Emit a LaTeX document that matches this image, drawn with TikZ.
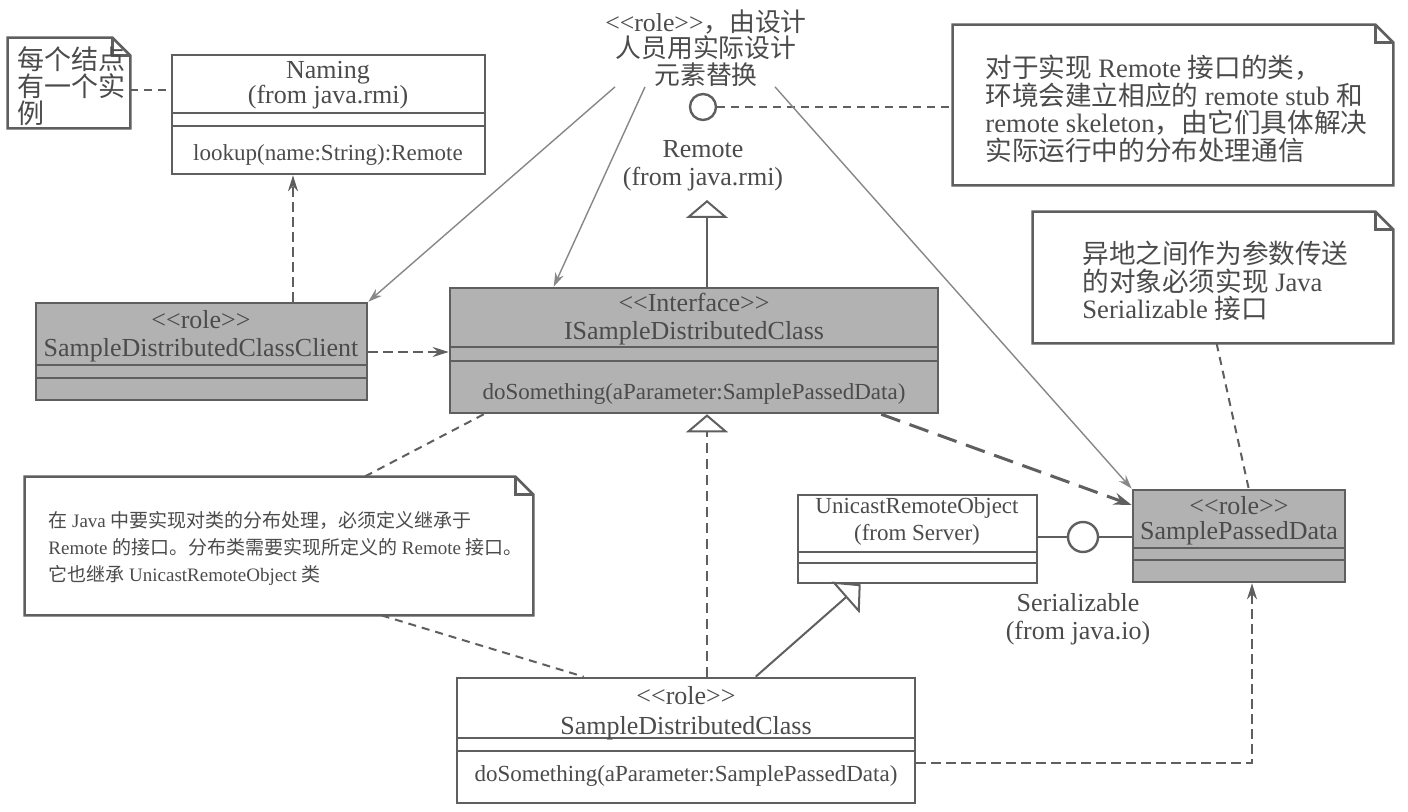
\documentclass[tikz,border=0pt]{standalone}
\usepackage{fontspec}
\setmainfont{Liberation Serif}
\newfontfamily\zhfont{Noto Sans CJK SC}
\newcommand{\zh}[1]{{\zhfont #1}}
\usetikzlibrary{fit,arrows.meta}

\definecolor{inkgray}{RGB}{75,75,75}
\definecolor{linegray}{RGB}{95,95,95}
\definecolor{thingray}{RGB}{135,135,135}
\definecolor{roleshade}{RGB}{178,178,178}

% folded corner outline of a note node
\newcommand{\drawnote}[1]{%
  \draw[notefold] (#1.north west) -- ([xshift=-9pt]#1.north east) -- ([yshift=-9pt]#1.north east) -- (#1.south east) -- (#1.south west) -- cycle;
  \draw[notefold] ([xshift=-9pt]#1.north east) |- ([yshift=-9pt]#1.north east);}

\tikzset{
  classbox/.style={draw=linegray, line width=1.3pt, inner sep=0pt},
  rolebox/.style={classbox, fill=roleshade},
  sepline/.style={draw=linegray, line width=1.3pt},
  notebox/.style={inner sep=0pt},
  notetext/.style={anchor=west, inner sep=0pt, align=left, text=inkgray, font=\fontsize{13.3}{13.8}\selectfont},
  notefold/.style={draw=linegray, line width=1.3pt, line join=miter},
  nametext/.style={align=center, text=inkgray, inner sep=0pt, font=\fontsize{13}{14}\selectfont},
  optext/.style={text=inkgray, inner sep=0pt, font=\fontsize{11.5}{13}\selectfont},
  lollipop/.style={draw=linegray, line width=1.2pt, circle, inner sep=0pt, fill=white},
  assoc/.style={draw=linegray, line width=1pt},
  notelink/.style={draw=linegray, line width=1pt, dash pattern=on 4pt off 3pt},
  deparrow/.style={draw=linegray, line width=1pt, dash pattern=on 5pt off 2.5pt, -{Stealth[length=8pt, width=5pt]}},
  bigdep/.style={draw=linegray, line width=1.5pt, dash pattern=on 10pt off 5pt, -{Stealth[length=9pt, width=6pt]}},
  thinarrow/.style={draw=thingray, line width=0.7pt, -{Stealth[length=7pt, width=4.5pt]}},
  realize/.style={draw=linegray, line width=1pt, dash pattern=on 5pt off 3pt, -{Triangle[open, length=9pt, width=21pt]}},
  generalize/.style={draw=linegray, line width=1pt, -{Triangle[open, length=10pt, width=21pt]}}
}

\begin{document}
\begin{tikzpicture}[x=0.5pt, y=-0.5pt]

    % Canvas
    \useasboundingbox (0,0) rectangle (1408,812);
    \fill[white] (0,0) rectangle (1408,812);

    % Naming class (top left)
    \node[classbox, fit={(172,55) (485,174)}] (naming) {};
    \draw[sepline] (172,113) -- (485,113);
    \draw[sepline] (172,126) -- (485,126);
    \node[nametext, font=\fontsize{13}{12.5}\selectfont] (namingtitle) at (328,85) {Naming\\(from java.rmi)};
    \node[optext] (namingop) at (328,155) {lookup(name:String):Remote};

    % Client role class
    \node[rolebox, fit={(36,303) (367,400)}] (client) {};
    \draw[sepline] (36,365) -- (367,365);
    \draw[sepline] (36,378) -- (367,378);
    \node[nametext] (clienttitle) at (201,336) {<{}<role>{}>\\SampleDistributedClassClient};

    % Interface class
    \node[rolebox, fit={(450,288) (938,413)}] (iface) {};
    \draw[sepline] (450,347) -- (938,347);
    \draw[sepline] (450,361) -- (938,361);
    \node[nametext] (ifacetitle) at (694,319) {<{}<Interface>{}>\\ISampleDistributedClass};
    \node[optext] (ifaceop) at (694,394) {doSomething(aParameter:SamplePassedData)};

    % Passed data role class
    \node[rolebox, fit={(1133,490) (1345,582)}] (passed) {};
    \draw[sepline] (1133,548) -- (1345,548);
    \draw[sepline] (1133,560) -- (1345,560);
    \node[nametext, font=\fontsize{13}{12.5}\selectfont] (passedtitle) at (1239,521) {<{}<role>{}>\\SamplePassedData};

    % UnicastRemoteObject class
    \node[classbox, fit={(798,495) (1037,583)}] (unicast) {};
    \draw[sepline] (798,552) -- (1037,552);
    \draw[sepline] (798,563) -- (1037,563);
    \node[nametext, font=\fontsize{11.5}{13.5}\selectfont] (unicasttitle) at (917,521) {UnicastRemoteObject\\(from Server)};

    % Distributed class (bottom)
    \node[classbox, fit={(457,678) (915,803)}] (distcls) {};
    \draw[sepline] (457,738) -- (915,738);
    \draw[sepline] (457,751) -- (915,751);
    \node[nametext, font=\fontsize{13}{15}\selectfont] (distclstitle) at (686,713) {<{}<role>{}>\\SampleDistributedClass};
    \node[optext] (distclsop) at (686,776) {doSomething(aParameter:SamplePassedData)};

    % Remote and Serializable interfaces (lollipops)
    \node[lollipop, minimum size=13pt] (remote) at (703,107) {};
    \node[nametext] (remotelabel) at (703,166) {Remote\\(from java.rmi)};
    \node[lollipop, minimum size=15pt] (serial) at (1083,537) {};
    \node[nametext] (seriallabel) at (1078,619) {Serializable\\(from java.io)};

    % Role remark without a box
    \node[nametext, font=\fontsize{12.9}{13.3}\selectfont] (rolelabel) at (706,48)
        {<{}<role>{}>\zh{，由设计}\\\zh{人员用实际设计}\\\zh{元素替换}};

    % Notes: box first, then its text
    \node[notebox, fit={(8,38) (130,128)}] (namingnote) {};
    \drawnote{namingnote}
    \node[notetext, font=\fontsize{13.5}{13.5}\selectfont\zhfont] (namingnotetext) at (17,86)
        {每个结点\\有一个实\\例};

    \node[notebox, fit={(953,25) (1393,185)}] (rmnote) {};
    \drawnote{rmnote}
    \node[notetext] (rmnotetext) at (985,109)
        {\zh{对于实现} Remote \zh{接口的类，}\\
         \zh{环境会建立相应的} remote stub \zh{和}\\
         remote skeleton\zh{，由它们具体解决}\\
         \zh{实际运行中的分布处理通信}};

    \node[notebox, fit={(1033,212) (1393,343)}] (serialnote) {};
    \drawnote{serialnote}
    \node[notetext] (serialnotetext) at (1082,281)
        {\zh{异地之间作为参数传送}\\
         \zh{的对象必须实现} Java\\
         Serializable \zh{接口}};

    \node[notebox, fit={(25,477) (533,615)}] (implnote) {};
    \drawnote{implnote}
    \node[notetext, font=\fontsize{9.5}{13.5}\selectfont] (implnotetext) at (48,548)
        {\zh{在} Java \zh{中要实现对类的分布处理，必须定义继承于}\\
         Remote \zh{的接口。分布类需要实现所定义的} Remote \zh{接口。}\\
         \zh{它也继承} UnicastRemoteObject \zh{类}};

    % Helper coordinates for straight connectors
    \coordinate (lookupx) at (293,0);
    \coordinate (cally) at (0,352);
    \coordinate (notey) at (0,90);
    \coordinate (remotetip) at (707,200);
    \coordinate (realx) at (707,0);
    \coordinate (datax) at (1252,0);
    \coordinate (datay) at (0,763);

    % Note links
    \draw[notelink] (namingnote.east |- notey) -- (naming.west |- notey);
    \draw[notelink] (remote.east) -- (remote -| rmnote.west);
    \draw[notelink] ([xshift=92pt]serialnote.south west) -- ([xshift=58.5pt]passed.north west);
    \draw[notelink] ([xshift=17.5pt]iface.south west) -- ([xshift=170pt]implnote.north west);
    \draw[notelink] ([xshift=178.5pt]implnote.south west) -- ([xshift=64pt]distcls.north west);

    % Dependencies
    \draw[deparrow] (client.north -| lookupx) -- (naming.south -| lookupx);
    \draw[deparrow] (client.east |- cally) -- (iface.west |- cally);
    \draw[bigdep] ([xshift=-29pt]iface.south east) -- ([yshift=15.5pt]passed.west);
    \draw[deparrow] (distcls.east |- datay) -| (passed.south -| datax);

    % Role remark arrows
    \draw[thinarrow] ([xshift=-45.5pt]rolelabel.south) -- (client.north east);
    \draw[thinarrow] ([xshift=-30.5pt]rolelabel.south) -- ([xshift=52.5pt]iface.north west);
    \draw[thinarrow] ([xshift=34.5pt]rolelabel.south) -- (passed.north west);

    % Realizations and generalization
    \draw[realize, solid] ([xshift=6.5pt]iface.north) -- (remotetip);
    \draw[realize] (distcls.north -| realx) -- (iface.south -| realx);
    \draw[generalize] ([xshift=150pt]distcls.north west) -- ([xshift=32pt]unicast.south west);

    % Serializable lollipop lines
    \draw[assoc] (unicast.east |- serial) -- (serial);
    \draw[assoc] (serial) -- (serial -| passed.west);

\end{tikzpicture}
\end{document}
